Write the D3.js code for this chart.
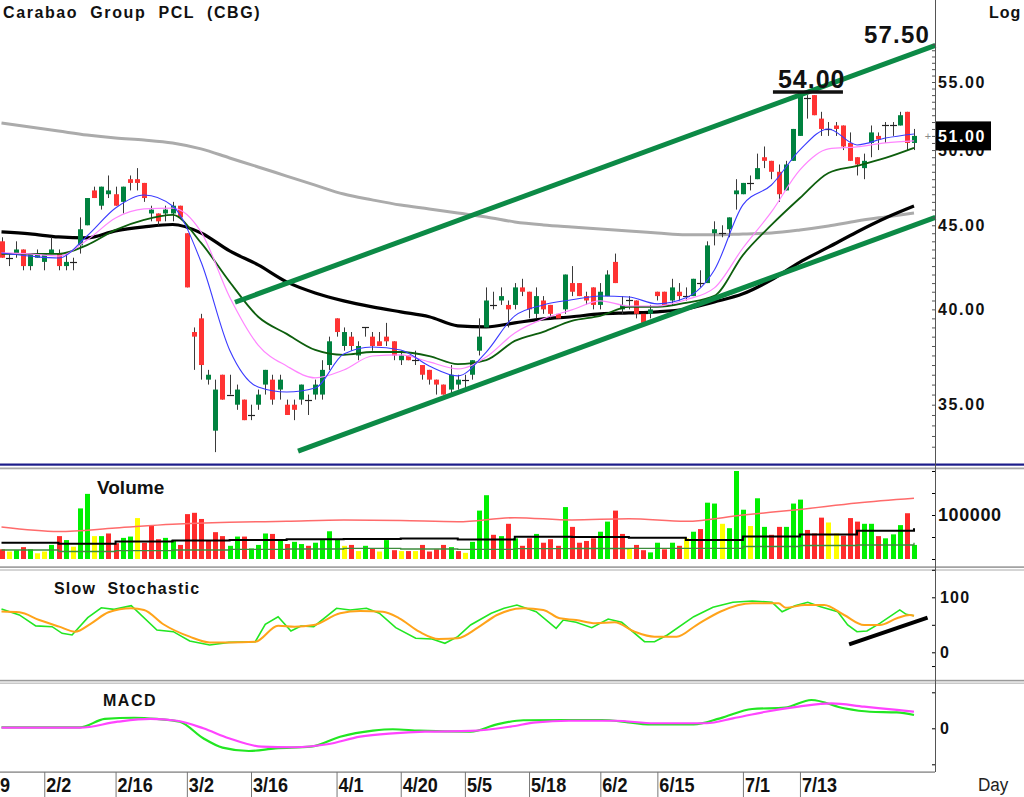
<!DOCTYPE html>
<html>
<head>
<meta charset="utf-8">
<script src="https://cdn.jsdelivr.net/npm/d3@7"></script>
<style>
  body { margin: 0; background: #fff; }
  text { font-family: "Liberation Sans", Arial, sans-serif; }
</style>
</head>
<body>
<div id="chart"></div>
<script>
// Daily OHLC, 129 sessions (index 0 = first visible candle)
const opens = [44,43,43.25,43.5,42.5,43,42.75,43.25,43.25,42.5,42.75,43.75,45,47.25,46.25,47,47,46.5,48,48,47.75,45.75,45.75,45.75,45.75,46.25,44.5,38.75,39.5,36.25,33.75,36.5,35.5,35,35.25,34.5,35,36,36.25,35.75,35,35,35.25,35.25,35.5,35.5,37,39.5,38,38.5,37.5,39,38.5,38.25,38.5,38.25,37.25,37.5,37.25,37,36.75,36.25,36,35.75,36,36.25,36.5,37.75,39,40.25,40.5,40.25,40.25,41.25,41,39.75,40.5,40.25,39.75,40,41.5,41.5,40.75,41.25,40.25,40.75,42.75,40,40.5,40.5,39.75,39.75,41,41,40.5,41,40.75,40.75,41.5,41.5,44.5,44.5,44.75,47,47,47.75,48,49.5,49.25,48.5,47.25,49.25,51,53.75,54,52.25,51.5,51.75,51.75,50.5,49.5,48.75,50.5,51,51.75,51.75,51.75,52.75,50.5];
const highs = [44.25,43.25,44,43.5,43.25,43.5,43.25,44.25,43.5,43.25,43,45.5,46.75,47.5,47.5,48.25,47.5,47.5,48.25,48.75,47.75,46.25,45.75,46.25,46.5,46.25,44.5,39,39.75,36.75,36.25,36.5,36.5,36,35.25,35,35.75,36.75,36.5,36.5,35.25,35.25,36,35.5,36.25,37.25,38.5,39.5,39,38.75,38.25,39,38.75,38.75,39.25,38.25,37.75,37.5,37.75,37,36.75,36.25,36,37,36.5,36.5,37.25,39.5,41.25,41,41.25,40.5,41.5,41.75,41,41.25,40.75,40.25,39.75,42,42.5,41.5,41,41.25,41.5,42.25,43.25,40.75,40.75,40.5,39.75,40.25,41,41,41.75,41.5,41.25,41.75,42.25,44,45.25,45,45.5,48,47.75,48.25,49.75,50.25,49.25,49,49.25,51.5,54,54,54,52.75,52,52,51.75,51.25,49.5,49.75,51.75,51.25,52,52,52.75,52.75,51.5];
const lows = [43,42.5,43,42.25,42.25,43,42.25,43.25,42.25,42.25,42.25,43.25,45,46.75,46,46.75,46.25,45.75,47.25,47.25,46.5,45.25,45,45.25,45.25,45.5,41.25,36.75,36.25,36,32.75,35.25,35.5,34.75,34.25,34.25,34.75,35.5,35,35.25,34.5,34.25,35,34.5,35.25,35.25,36.75,38.5,37.75,37.75,37.25,38.5,37.75,38,38,37.25,37,37.25,37,36.25,36,35.5,35.5,35.5,35.75,35.75,36.25,37.5,39,40,40.25,39,40,40.75,39.5,39.5,39.75,39.5,39.5,39.75,40.75,40.75,40.25,40,40,40.75,41.5,39.75,40,39.5,39.25,39.5,40.5,40.25,40.25,40.5,40.5,40.75,41.25,41.5,43.75,44.25,44.25,46,47,47.25,48,48.75,48,46.5,47.25,49.25,51,52.25,52.5,51,51,51,50,49.25,48.25,48,49.5,50,50.5,51,51.75,50,50];
const closes = [43,43,43.5,42.5,43.25,43.25,43.25,43.5,42.5,42.75,42.75,44.75,46.75,46.75,47.5,47.25,46.25,47.5,47.75,47.75,46.75,46,45.25,46,46.25,45.5,41.25,38.5,37,36.5,35.75,35.25,35.5,35.75,34.25,34.5,35.5,36.75,35.25,36.25,34.5,34.75,36,35.25,36,36.75,38.25,38.75,38.75,38,38,39,38,38,38.25,37.5,37.5,37.25,37.25,36.5,36.25,36,35.5,36.5,36.25,36.25,37.25,38.5,40.5,40.25,40.75,40,41.25,41,40,40.75,40,39.75,39.5,42,41,40.75,40.5,40.25,41,42,41.5,40.25,40.5,39.75,39.25,40,40.75,40.25,41.25,40.75,40.75,41.75,41.5,43.75,44.75,44.5,45.5,47.25,47.75,47.75,48.75,49.25,48.5,47,49,51.5,54,53.75,52.5,51.5,51.5,51.5,50.25,49.25,49,49.25,51.25,50.75,51.75,51.75,52.5,50.5,51];

// Volume (shares) and direction of close vs prior close (1 up, -1 down, 0 unchanged)
const volumes = [22,17,20,27,22,13,17,32,52,43,28,115,148,52,52,58,36,48,51,93,37,75,45,48,43,32,102,105,91,43,61,52,30,51,51,24,32,58,57,43,34,39,34,30,37,43,63,45,30,32,18,30,23,17,43,20,18,18,18,32,17,22,32,27,18,14,39,110,145,55,52,80,47,30,47,57,37,45,30,118,73,37,41,47,62,85,110,57,23,32,20,15,37,22,37,30,47,62,68,128,126,80,70,200,112,75,138,73,55,73,73,126,135,66,58,94,83,58,53,93,85,80,80,52,47,56,77,104,32].map(v => v * 1000);
const volDir = [-1,0,1,-1,1,0,0,1,-1,1,0,1,1,0,1,-1,-1,1,1,0,-1,-1,-1,1,1,-1,-1,-1,-1,-1,-1,-1,1,1,-1,1,1,1,-1,1,-1,1,1,-1,1,1,1,1,0,-1,0,1,-1,0,1,-1,0,-1,0,-1,-1,-1,-1,1,-1,0,1,1,1,-1,1,-1,1,-1,-1,1,-1,-1,-1,1,-1,-1,-1,-1,1,1,-1,-1,0,-1,-1,1,1,-1,1,-1,0,1,-1,1,1,0,1,1,1,0,1,1,-1,-1,1,1,1,-1,-1,-1,0,0,-1,-1,-1,1,1,-1,1,1,1,-1,1];

// Moving averages read every 4 sessions
const maIdx = d3.range(0, 129, 4);
const maBlue = [43.29,43.10,42.98,44.33,46.10,46.95,46.23,42.74,37.79,35.88,35.63,35.83,37.58,37.95,37.79,36.95,36.44,37.68,39.64,40.25,40.54,40.76,40.70,40.31,40.65,42.27,46.30,47.61,50.01,51.50,50.36,50.85,51.14];
const maPink = [43.29,43.23,43.10,44.08,45.46,46.04,46.10,44.58,40.70,38.05,36.95,36.34,36.74,37.47,37.53,37.16,36.80,37.42,38.70,39.47,39.97,40.48,40.19,40.19,40.54,41.22,43.59,45.85,48.63,50.08,50.22,50.50,50.64];
const maGreen = [43.23,43.23,43.23,43.77,44.71,45.34,45.66,43.90,41.57,39.59,38.65,37.79,37.53,37.68,37.68,37.47,37.05,37.26,38.27,38.76,39.36,39.64,40.14,40.14,40.37,40.76,43.16,45.02,46.75,48.42,48.90,49.45,50.15];
const maBlack = [44.58,44.46,44.27,44.21,44.65,44.90,45.05,44.52,43.41,42.57,41.57,40.93,40.48,40.14,39.86,39.59,39.09,39.03,39.25,39.47,39.59,39.75,39.80,39.86,40.02,40.42,40.88,41.69,42.74,43.64,44.58,45.46,46.23];
const maGray = [51.93,51.64,51.35,51.06,50.85,50.71,50.50,50.08,49.45,48.83,48.21,47.60,47.01,46.63,46.29,46.04,45.78,45.53,45.21,45.02,44.89,44.77,44.64,44.52,44.40,44.40,44.46,44.52,44.71,44.96,45.27,45.53,45.78];

// Volume averages read every 8 sessions
const volAvgIdx = d3.range(0, 129, 8);
const volAvgRed = [72700,62500,70500,78900,83400,85700,88600,87500,84800,93900,88600,91600,85700,100000,112500,127300,138000];
const volAvgBlack = [37000,34800,39800,42000,43200,44800,45500,46600,44300,50700,50000,48400,43200,51100,55700,64300,69800];
const volAvgGreen = [20500,17000,18900,20500,22000,22700,24300,22700,22000,23400,23900,24300,24300,28400,30700,31800,37000];

// Slow stochastic [session, value]
const stochK = [[0,78.7],[2.5,68],[4.8,48],[7.1,46.6],[8.5,34.5],[9.9,31.5],[12.1,63],[14,81],[15.8,78],[18.2,84.7],[21.8,40.5],[24.1,37.5],[26.4,20.5],[29.2,13.3],[31.9,18],[35.6,19.3],[37,51],[38.8,64.7],[40.6,38.7],[42,47.8],[43.8,46.6],[47,80],[48.9,77],[51.2,80],[53,71],[55.3,44.8],[58.1,25.5],[60.4,24.2],[62.2,16.4],[64,28.4],[65.8,49.6],[68.7,71],[70.5,80],[72.3,86],[75,73.8],[77.8,43.6],[78.8,58.7],[80.6,54.5],[82.8,44.8],[85.1,60.5],[87,54.5],[90.2,19.3],[91.6,19.3],[93.4,31.5],[97.1,64.7],[99.8,81.8],[102.6,90.9],[105.3,93.3],[108.1,90.9],[109.5,73.8],[111.3,84.7],[113.1,90.9],[114.9,82.9],[117.3,73.8],[118.7,49.6],[120,37.5],[121.4,38.7],[123.2,52.7],[126,77],[126.9,69],[128,66.5]];
const stochD = [[0,74],[2.5,72.7],[5.3,58.7],[8.1,46.6],[10.3,37.5],[12.6,52.7],[15,72.7],[18.2,80],[20,77],[22.7,51],[26.4,28.4],[29.2,18],[31.9,18],[35.6,19.3],[38.8,48.4],[41.1,46.6],[43.8,49.6],[47.5,71],[50.3,75],[53.5,73.8],[55.8,61.8],[58.6,37.5],[61.3,24.2],[64,25.5],[66.8,44.8],[69.5,67.8],[73.2,80],[76,77],[78.3,61.8],[80.6,58.7],[83.3,52.7],[86,54.5],[88.8,37.5],[91.6,28.4],[94.7,28.4],[97.5,49.6],[100.8,73.8],[105.3,89],[109,89],[110,81],[112.7,86],[115.4,86],[118.2,67.8],[121,49.6],[123.2,49.6],[125.6,61.8],[127.4,67.8],[128,66.5]];

// MACD [session, value]
const macdLine = [[0,0.08],[11,0.08],[14.5,0.78],[18.6,0.88],[21.8,0.78],[25,0.55],[28.3,-0.83],[31,-1.61],[34.7,-1.89],[38.4,-1.67],[43.4,-1.53],[47.5,-0.7],[52.1,-0.2],[54.9,-0.08],[58.6,-0.2],[65.8,-0.28],[69.5,0.33],[73.2,0.67],[78.8,0.69],[84.2,0.69],[87.9,0.5],[90.7,0.33],[97.1,0.33],[100.8,0.83],[105.3,1.61],[109.9,1.72],[113.6,2.36],[118.2,1.67],[121.8,1.38],[125.6,1.33],[128,1.11]];
const macdSignal = [[0,0.05],[11,0.05],[16.3,0.55],[20.9,0.78],[24.6,0.63],[28.3,0],[31.9,-0.83],[36.5,-1.53],[41.1,-1.58],[45.7,-1.33],[50.3,-0.7],[54.9,-0.42],[59.4,-0.28],[65.8,-0.22],[71.4,0.14],[75,0.5],[79.6,0.63],[86,0.63],[91.6,0.42],[98.9,0.42],[102.6,0.83],[107.2,1.38],[111.8,1.8],[116.4,2.08],[121,1.8],[125.6,1.53],[128,1.38]];

// Axis labels
const tickIdx = [-4, 6, 16, 26, 35, 47, 56, 65, 74, 84, 92, 104, 112];
const tickLabels = ["1/19","2/2","2/16","3/2","3/16","4/1","4/20","5/5","5/18","6/2","6/15","7/1","7/13"];
const priceTicks = [55, 50, 45, 40, 35];

// Drawn annotations
const channelUpper = [[32.75, 40.4], [131, 57.9]];
const channelLower = [[41.6, 32.8], [131, 45.5]];
const stochTrend = [[118.9, 14.5], [129.9, 63]];
const peakPrice = 54.00, targetPrice = 57.50, lastPrice = 51.00;

const W = 1024, H = 797, AX = 935;

const svg = d3.select("#chart").append("svg")
  .attr("width", W).attr("height", H).style("display", "block");
svg.append("rect").attr("width", W).attr("height", H).attr("fill", "#fff");

// Scales
const x = d3.scaleLinear().domain([0, 128]).range([1.5, 914]);
const yP = d3.scaleLog().domain([35, 55]).range([404.7, 82]);
const yV = d3.scaleLinear().domain([0, 200000]).range([559, 471]);
const yS = d3.scaleLinear().domain([0, 100]).range([652.3, 597.3]);
const yM = d3.scaleLinear().domain([0, 1]).range([728.3, 716.3]);

const defs = svg.append("defs");
function clip(id, y0, y1) {
  defs.append("clipPath").attr("id", id).append("rect")
    .attr("x", 0).attr("y", y0).attr("width", AX).attr("height", y1 - y0);
}
clip("cMain", 0, 463);
clip("cVol", 470, 566);
clip("cSto", 572, 680);
clip("cMacd", 684, 771);

// Panel separators
function band(y, h, color) {
  svg.append("rect").attr("x", 0).attr("y", y).attr("width", W).attr("height", h).attr("fill", color);
}
band(463.5, 2.2, "#1c1c8a");
band(467.5, 1.8, "#a8a8a8");
band(566.3, 1.6, "#9a9a9a");
band(569.3, 1.4, "#c4c4c4");
band(679.8, 1.6, "#9a9a9a");
band(682.5, 1.4, "#c4c4c4");
svg.append("rect").attr("x", 0).attr("y", 771.5).attr("width", AX).attr("height", 1.2).attr("fill", "#777");

// ---------- Main price panel ----------
const main = svg.append("g").attr("clip-path", "url(#cMain)");
const maLine = d3.line().x(d => x(d[0])).y(d => yP(d[1])).curve(d3.curveMonotoneX);
function drawMA(vals, color, width) {
  main.append("path")
    .datum(maIdx.map((i, k) => [i, vals[k]]))
    .attr("d", maLine).attr("fill", "none")
    .attr("stroke", color).attr("stroke-width", width).attr("stroke-linejoin", "round");
}
drawMA(maGray, "#ababab", 3);
drawMA(maBlack, "#000", 3.2);

const candles = closes.map((c, i) => ({ i, o: opens[i], h: highs[i], l: lows[i], c }));
const cx = d => Math.round(x(d.i));
main.append("g").selectAll("line").data(candles).join("line")
  .attr("x1", d => cx(d) + 0.5).attr("x2", d => cx(d) + 0.5)
  .attr("y1", d => yP(d.h)).attr("y2", d => yP(d.l))
  .attr("stroke", "#3a3a3a").attr("stroke-width", 1);
main.append("g").selectAll("rect").data(candles.filter(d => d.o !== d.c)).join("rect")
  .attr("x", d => cx(d) - 2).attr("width", 5)
  .attr("y", d => yP(Math.max(d.o, d.c)))
  .attr("height", d => Math.max(1.5, Math.abs(yP(d.o) - yP(d.c))))
  .attr("fill", d => d.c > d.o ? "#00823f" : "#ff3333");
main.append("g").selectAll("line").data(candles.filter(d => d.o === d.c)).join("line")
  .attr("x1", d => cx(d) - 3).attr("x2", d => cx(d) + 4)
  .attr("y1", d => Math.round(yP(d.o)) + 0.5).attr("y2", d => Math.round(yP(d.o)) + 0.5)
  .attr("stroke", "#222").attr("stroke-width", 1.2);

drawMA(maGreen, "#0d5e0d", 1.8);
drawMA(maPink, "#ff85ff", 1.2);
drawMA(maBlue, "#3a3aff", 1.1);

const straight = d3.line().x(d => x(d[0])).y(d => yP(d[1]));
[channelUpper, channelLower].forEach(seg => {
  svg.append("path").datum(seg).attr("d", straight)
    .attr("fill", "none").attr("stroke", "#0c8a46").attr("stroke-width", 5);
});

// Price annotations
svg.append("text").attr("x", x(112) - 22).attr("y", yP(peakPrice) - 7)
  .attr("font-size", 25).attr("font-weight", "bold").attr("letter-spacing", 1).attr("fill", "#111")
  .text(peakPrice.toFixed(2));
svg.append("line").attr("x1", x(112) - 27).attr("x2", x(112) + 43)
  .attr("y1", yP(peakPrice) - 3).attr("y2", yP(peakPrice) - 3)
  .attr("stroke", "#111").attr("stroke-width", 3.5);
svg.append("text").attr("x", 864).attr("y", 43)
  .attr("font-size", 24).attr("font-weight", "bold").attr("letter-spacing", 1.2).attr("fill", "#111")
  .text(targetPrice.toFixed(2));

// Title
svg.append("text").attr("x", 3).attr("y", 18).style("white-space", "pre")
  .attr("font-size", 16).attr("font-weight", "bold").attr("letter-spacing", 1.6).attr("fill", "#111")
  .text("Carabao  Group  PCL  (CBG)");
svg.append("text").attr("x", 989).attr("y", 18)
  .attr("font-size", 16).attr("font-weight", "bold").attr("letter-spacing", 1).attr("fill", "#111")
  .text("Log");

// Right price axis (the 50.00 label sits under the last-price box, as in the source chart)
const pAxis = svg.append("g").attr("transform", `translate(${AX},0)`)
  .call(d3.axisRight(yP).tickValues(priceTicks).tickFormat(d3.format(".2f")).tickSize(0).tickPadding(3));
pAxis.select(".domain").remove();
pAxis.selectAll("text").attr("font-size", 16).attr("font-weight", "bold")
  .attr("letter-spacing", 1.6).attr("fill", "#111").attr("font-family", "Liberation Sans, Arial, sans-serif");
const minor = svg.append("g").attr("transform", `translate(${AX},0)`)
  .call(d3.axisLeft(yP).tickValues(d3.range(33, 58.5, 0.5)).tickSize(3).tickFormat(""));
minor.select(".domain").remove();
minor.selectAll("line").attr("stroke", "#555");

// Last price box
svg.append("rect").attr("x", AX + 1).attr("y", yP(lastPrice) - 14.5).attr("width", 55).attr("height", 29).attr("fill", "#000");
svg.append("text").attr("x", AX + 3).attr("y", yP(lastPrice) + 6)
  .attr("font-size", 16).attr("font-weight", "bold").attr("letter-spacing", 1.6).attr("fill", "#fff")
  .text(lastPrice.toFixed(2));
svg.append("text").attr("x", x(128) + 14).attr("y", yP(lastPrice) + 4)
  .attr("font-size", 11).attr("text-anchor", "middle").attr("fill", "#888").text("+");

// ---------- Volume panel ----------
const vol = svg.append("g").attr("clip-path", "url(#cVol)");
const volColor = d => d > 0 ? "#00f000" : d < 0 ? "#ff2b2b" : "#ffff00";
vol.selectAll("rect").data(volumes).join("rect")
  .attr("x", (d, i) => Math.round(x(i)) - 2).attr("width", 5)
  .attr("y", d => yV(d)).attr("height", d => yV(0) - yV(d))
  .attr("fill", (d, i) => volColor(volDir[i]));
const vLine = d3.line().x(d => x(d[0])).y(d => yV(d[1]));
[[volAvgRed, "#ff6b6b", 1.5, d3.curveMonotoneX], [volAvgBlack, "#000", 2, d3.curveStepAfter], [volAvgGreen, "#3c8c3c", 1.3, d3.curveStepAfter]]
  .forEach(([vals, col, w, cv]) => {
    vol.append("path").datum(volAvgIdx.map((i, k) => [i, vals[k]]))
      .attr("d", vLine.curve(cv)).attr("fill", "none").attr("stroke", col).attr("stroke-width", w);
  });
svg.append("text").attr("x", 97).attr("y", 494).attr("font-size", 19).attr("font-weight", "bold").attr("fill", "#111").text("Volume");
const vAxis = svg.append("g").attr("transform", `translate(${AX},0)`)
  .call(d3.axisRight(yV).tickValues([100000]).tickFormat(d3.format("d")).tickSize(0).tickPadding(3));
vAxis.select(".domain").remove();
vAxis.selectAll("text").attr("font-size", 18).attr("font-weight", "bold").attr("letter-spacing", 0.6)
  .attr("fill", "#111").attr("font-family", "Liberation Sans, Arial, sans-serif");
const vMinor = svg.append("g").attr("transform", `translate(${AX},0)`)
  .call(d3.axisLeft(yV).tickValues([0, 50000, 100000, 150000, 200000]).tickSize(3).tickFormat(""));
vMinor.select(".domain").remove();

// ---------- Slow Stochastic panel ----------
const sto = svg.append("g").attr("clip-path", "url(#cSto)");
const sLine = d3.line().x(d => x(d[0])).y(d => yS(d[1]));
sto.append("path").datum(stochK).attr("d", sLine).attr("fill", "none").attr("stroke", "#22e622").attr("stroke-width", 1.6);
sto.append("path").datum(stochD).attr("d", sLine.curve(d3.curveMonotoneX)).attr("fill", "none").attr("stroke", "#ffa31a").attr("stroke-width", 2);
svg.append("path").datum(stochTrend).attr("d", d3.line().x(d => x(d[0])).y(d => yS(d[1])))
  .attr("stroke", "#000").attr("stroke-width", 4);
svg.append("text").attr("x", 54).attr("y", 594).style("white-space", "pre")
  .attr("font-size", 16).attr("font-weight", "bold").attr("letter-spacing", 1.2).attr("fill", "#111").text("Slow  Stochastic");
const sAxis = svg.append("g").attr("transform", `translate(${AX},0)`)
  .call(d3.axisRight(yS).tickValues([0, 100]).tickFormat(d3.format("d")).tickSize(0).tickPadding(5));
sAxis.select(".domain").remove();
sAxis.selectAll("text").attr("font-size", 16).attr("font-weight", "bold").attr("letter-spacing", 1.2)
  .attr("fill", "#111").attr("font-family", "Liberation Sans, Arial, sans-serif");
const sMinor = svg.append("g").attr("transform", `translate(${AX},0)`)
  .call(d3.axisLeft(yS).tickValues([-25, 0, 50, 100, 150]).tickSize(3).tickFormat(""));
sMinor.select(".domain").remove();

// ---------- MACD panel ----------
const mac = svg.append("g").attr("clip-path", "url(#cMacd)");
const mLine = d3.line().x(d => x(d[0])).y(d => yM(d[1])).curve(d3.curveMonotoneX);
mac.append("path").datum(macdLine).attr("d", mLine).attr("fill", "none").attr("stroke", "#22e622").attr("stroke-width", 2.2);
mac.append("path").datum(macdSignal).attr("d", mLine).attr("fill", "none").attr("stroke", "#ff44ff").attr("stroke-width", 2.2);
svg.append("text").attr("x", 103).attr("y", 706).attr("font-size", 16).attr("font-weight", "bold")
  .attr("letter-spacing", 1.5).attr("fill", "#111").text("MACD");
const mAxis = svg.append("g").attr("transform", `translate(${AX},0)`)
  .call(d3.axisRight(yM).tickValues([0]).tickFormat(d3.format("d")).tickSize(0).tickPadding(5));
mAxis.select(".domain").remove();
mAxis.selectAll("text").attr("font-size", 16).attr("font-weight", "bold")
  .attr("fill", "#111").attr("font-family", "Liberation Sans, Arial, sans-serif");
const mMinor = svg.append("g").attr("transform", `translate(${AX},0)`)
  .call(d3.axisLeft(yM).tickValues([-3, 0, 3]).tickSize(3).tickFormat(""));
mMinor.select(".domain").remove();

// Vertical right axis line
svg.append("line").attr("x1", AX + 0.5).attr("x2", AX + 0.5).attr("y1", 0).attr("y2", 772)
  .attr("stroke", "#555").attr("stroke-width", 1);

// ---------- Date axis ----------
const xAxis = svg.append("g").attr("transform", "translate(0,772)")
  .call(d3.axisBottom(x).tickValues(tickIdx).tickSize(25).tickFormat(""));
xAxis.select(".domain").remove();
xAxis.selectAll("line").attr("stroke", "#777");
svg.append("g").selectAll("text").data(tickIdx).join("text")
  .attr("transform", d => `translate(${x(d) + 2},792) scale(0.86,1)`)
  .attr("font-size", 21).attr("font-weight", "bold").attr("fill", "#111")
  .text((d, k) => tickLabels[k]);
svg.append("text").attr("transform", "translate(978,791) scale(0.9,1)")
  .attr("font-size", 19).attr("fill", "#222").text("Day");
</script>
</body>
</html>
